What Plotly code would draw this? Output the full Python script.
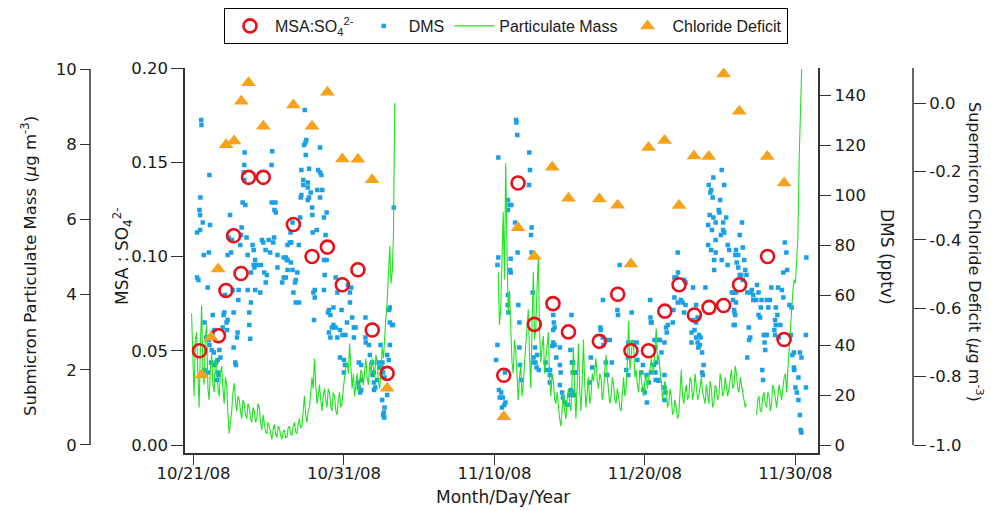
import pandas as pd
import plotly.graph_objects as go

# ---------------- data (days since 2008-10-21 00:00) ----------------
BASE = pd.Timestamp("2008-10-21")

msa_day = [0.40, 1.66, 2.16, 2.67, 3.16, 3.66, 4.64, 6.64, 7.88, 8.90, 9.89, 10.93, 11.88, 12.87,
           20.62, 21.57, 22.65, 23.89, 24.92, 26.97, 28.19, 29.07, 30.24, 31.32, 32.27, 33.29,
           34.26, 35.23, 36.29, 38.15, 39.25]
msa_ratio = [0.050, 0.058, 0.082, 0.111, 0.091, 0.142, 0.142, 0.117, 0.100, 0.105, 0.085, 0.093,
             0.061, 0.038,
             0.037, 0.139, 0.064, 0.075, 0.060, 0.055, 0.080, 0.050, 0.050, 0.071, 0.085, 0.069,
             0.073, 0.074, 0.085, 0.100, 0.056]

cl_day = [0.55, 1.17, 1.64, 2.17, 2.70, 3.18, 3.66, 4.64, 6.64, 7.88, 8.90, 9.89, 10.93, 11.87, 12.87,
          20.62, 21.57, 22.65, 23.84, 24.92, 26.97, 28.19, 29.07, 30.24, 31.30, 32.27, 33.26,
          34.24, 35.23, 36.27, 38.13, 39.25]
cl_deficit = [-0.795, -0.685, -0.485, -0.121, -0.110, 0.006, 0.060, -0.067, -0.005, -0.067, 0.032,
              -0.163, -0.164, -0.224, -0.834,
              -0.917, -0.364, -0.448, -0.187, -0.278, -0.280, -0.298, -0.470, -0.129, -0.109,
              -0.299, -0.154, -0.156, 0.086, -0.023, -0.156, -0.233]

# DMS observations: (day, pptv)
dms_obs = [
    (0.51, 130), (0.53, 128), (1.06, 108), (3.40, 117), (5.23, 117.5), (5.19, 112), (3.38, 112),
    (3.34, 109), (3.38, 106), (0.46, 99), (0.40, 94), (0.44, 92), (0.62, 89), (1.10, 88), (0.44, 86),
    (0.24, 85), (3.27, 97), (3.45, 96), (2.43, 92), (3.20, 87), (5.20, 97), (5.45, 97), (5.38, 94),
    (5.47, 93), (2.34, 83), (2.56, 82), (3.16, 84), (3.53, 83), (3.93, 80), (3.11, 80), (4.55, 82),
    (4.64, 81), (5.00, 82), (5.30, 81), (5.36, 83), (4.79, 78), (4.00, 78), (2.50, 77), (2.27, 76),
    (1.02, 77), (0.68, 76), (3.60, 76), (5.10, 77), (5.58, 76), (6.00, 75), (6.25, 74), (4.10, 74),
    (4.00, 72), (4.05, 71), (4.20, 72), (4.48, 72), (5.58, 71), (4.70, 69), (4.88, 68), (3.82, 69),
    (0.24, 67), (0.33, 66), (6.00, 67), (5.90, 65), (4.80, 65), (0.95, 63), (2.60, 62), (3.00, 62),
    (3.60, 62), (4.10, 62), (4.44, 61), (2.98, 58), (2.10, 60), (3.82, 57), (2.67, 53), (2.05, 53),
    (2.00, 52), (1.28, 52), (3.71, 53), (2.27, 50), (2.20, 49), (0.73, 49), (3.71, 48), (1.94, 47),
    (2.23, 46), (1.39, 46), (1.28, 45), (2.93, 45), (2.89, 43), (3.77, 42.5), (0.84, 43), (1.02, 42),
    (2.67, 39), (1.72, 38), (1.35, 37), (1.79, 35), (1.61, 34), (1.17, 33), (1.39, 32), (1.50, 33),
    (2.78, 33), (2.82, 32), (0.73, 30), (0.95, 29), (1.61, 29), (1.66, 28), (1.57, 26), (1.21, 38),
    (1.06, 40),
    (7.40, 134), (7.50, 122), (7.44, 121), (7.35, 120), (8.41, 119), (7.46, 116), (7.17, 110),
    (7.68, 110.5), (8.28, 110), (8.41, 109), (8.50, 108), (7.30, 106), (7.60, 105), (7.30, 104),
    (7.60, 103), (8.23, 102), (8.56, 102), (7.79, 101), (7.17, 100), (7.13, 99), (7.68, 99),
    (7.60, 98), (8.41, 99), (7.88, 95), (7.90, 92), (8.85, 93), (8.67, 91), (7.09, 91), (6.58, 89),
    (6.45, 85), (6.40, 81), (6.50, 81), (6.25, 80), (7.00, 80), (8.19, 86), (7.92, 85), (8.78, 84),
    (6.14, 75), (6.47, 73), (6.20, 74), (8.67, 74), (8.85, 74), (6.25, 70), (6.58, 70), (6.90, 69),
    (6.14, 67), (6.80, 66), (6.75, 65), (8.72, 68), (9.45, 67), (8.06, 62), (7.97, 61), (8.67, 62),
    (9.56, 61), (10.26, 64), (10.48, 63), (10.40, 61), (6.64, 61), (8.06, 59), (6.80, 57),
    (7.02, 57), (9.00, 54), (8.94, 53), (9.10, 52), (9.30, 55), (9.84, 54), (10.40, 57), (8.01, 50),
    (10.55, 51), (11.43, 51), (9.30, 48), (9.45, 47), (9.20, 47), (9.00, 45), (10.20, 49),
    (10.77, 47), (10.66, 47), (9.74, 46), (9.10, 43), (9.56, 43), (9.90, 44), (10.10, 44),
    (10.66, 43), (11.43, 43), (11.45, 41), (11.66, 40), (12.43, 40), (13.05, 40), (13.20, 48),
    (13.25, 48), (13.05, 49), (13.05, 55), (13.00, 54), (13.31, 95), (9.74, 35), (10.00, 34),
    (11.72, 36), (11.88, 33), (12.87, 36), (12.98, 34), (10.07, 32), (10.99, 33), (11.15, 32),
    (12.30, 33), (12.40, 31), (10.00, 29), (11.98, 29), (11.90, 28), (12.20, 26), (12.00, 25),
    (11.17, 26), (10.93, 25), (12.56, 33), (12.50, 31), (12.60, 29), (12.70, 27), (10.99, 23),
    (11.15, 22), (11.08, 21), (12.08, 23), (12.00, 22), (12.87, 20), (12.54, 18), (12.70, 15),
    (12.65, 13), (12.60, 12), (12.68, 11),
    (21.44, 130), (21.46, 129), (21.52, 124), (20.26, 115), (22.32, 117), (22.36, 110), (22.30, 104),
    (20.90, 98), (21.00, 96), (20.90, 94), (21.12, 96), (21.37, 89), (22.47, 87), (22.43, 84),
    (21.54, 77), (22.47, 77), (20.26, 75), (20.20, 72), (21.08, 74.5), (21.04, 70), (21.08, 69),
    (20.90, 60), (20.88, 56), (20.93, 53), (21.59, 56), (22.54, 61), (21.66, 49), (23.91, 52),
    (25.12, 52), (23.95, 49), (24.00, 47), (23.90, 46), (20.20, 40), (21.66, 39), (22.69, 39),
    (23.90, 41), (24.00, 40), (23.85, 39.6), (24.35, 39), (25.05, 38), (20.11, 34), (22.60, 35),
    (22.84, 36), (22.73, 33), (22.56, 33), (23.40, 33), (23.50, 30), (23.70, 30), (24.11, 35),
    (21.70, 32), (22.80, 31), (22.95, 30), (24.35, 32), (24.40, 29), (25.15, 33), (25.20, 29),
    (25.30, 29), (23.68, 28), (21.76, 26), (23.68, 25), (20.70, 29), (20.30, 22), (20.45, 21),
    (20.35, 19), (20.55, 19), (20.73, 17), (20.66, 16), (20.50, 15), (24.35, 24), (24.50, 21),
    (24.55, 19), (24.65, 17), (24.85, 16), (25.00, 20), (25.20, 21), (25.30, 20), (25.10, 22),
    (28.32, 72), (27.21, 58), (30.35, 58), (28.17, 54), (28.21, 52), (29.12, 53), (30.37, 51),
    (30.40, 49), (30.45, 49), (27.04, 47), (27.06, 46), (27.20, 43), (27.40, 42), (27.66, 42),
    (27.24, 40), (28.90, 41), (29.20, 41), (29.45, 41), (30.64, 42), (30.70, 39), (25.23, 33),
    (25.41, 29), (26.40, 35), (26.50, 31), (27.40, 33), (27.80, 33), (29.50, 34), (28.87, 35),
    (28.76, 30), (27.50, 28), (28.90, 28), (29.87, 32), (29.76, 29), (30.10, 28), (30.40, 29),
    (30.70, 29), (30.72, 26), (26.33, 25), (30.26, 25), (29.90, 22), (30.00, 21), (30.13, 17),
    (25.20, 21), (25.30, 20),
    (35.10, 110), (34.55, 107), (35.27, 104), (34.24, 104), (34.40, 102), (34.35, 101), (34.50, 99),
    (35.00, 98), (34.95, 93), (34.90, 94), (34.30, 92), (34.55, 91), (35.40, 91), (34.70, 89),
    (35.20, 89), (34.20, 88), (35.20, 86), (35.27, 85), (35.05, 84), (34.45, 86), (34.70, 82),
    (35.50, 80), (35.60, 78), (34.20, 80), (34.40, 78), (34.70, 77), (32.18, 77), (34.60, 74),
    (35.10, 74), (35.50, 72), (34.60, 70), (32.20, 69), (32.10, 67), (31.96, 67), (32.60, 66),
    (32.70, 65), (33.20, 63), (34.02, 63), (31.96, 59), (32.18, 57), (32.40, 58), (32.50, 57),
    (32.70, 56), (32.60, 53), (31.90, 54), (33.40, 56), (33.50, 51), (31.52, 48), (31.85, 49),
    (33.20, 50), (33.40, 49), (33.30, 46), (31.40, 47), (31.45, 45), (33.10, 45), (33.60, 44),
    (33.70, 43), (33.40, 43), (33.65, 40), (33.50, 41), (33.10, 41), (33.55, 39), (31.00, 42),
    (30.93, 42), (31.30, 41), (33.80, 37), (31.10, 37), (30.75, 33), (30.60, 32), (33.90, 32),
    (33.80, 29), (33.85, 28), (31.30, 28), (30.86, 26), (30.90, 25.7), (31.30, 23), (31.37, 21),
    (31.30, 18), (35.90, 48), (35.92, 54), (35.85, 58), (36.00, 52), (36.05, 78), (36.00, 76),
    (36.10, 73), (35.90, 61), (35.78, 61),
    (36.45, 89), (36.30, 84), (36.50, 79), (36.20, 76), (36.60, 74), (36.67, 70), (36.20, 71),
    (36.30, 68), (36.75, 68), (36.40, 68), (36.50, 66), (36.05, 61), (36.05, 57), (35.95, 53),
    (35.97, 48), (36.80, 61), (37.00, 61), (37.20, 60), (37.10, 62), (37.45, 64), (37.40, 58),
    (37.20, 58), (37.55, 61), (37.75, 58), (37.70, 55), (37.55, 52), (37.65, 51), (38.10, 58),
    (38.30, 58), (38.20, 55), (38.40, 63), (38.85, 63), (39.10, 62), (39.20, 59), (39.30, 81),
    (39.40, 77), (39.20, 69), (39.45, 70), (39.60, 56), (39.75, 55), (38.70, 55), (38.80, 52),
    (38.65, 50), (38.70, 48), (39.00, 48), (38.60, 46), (38.90, 43), (38.65, 44), (36.90, 47),
    (37.00, 43), (36.92, 42), (37.90, 44), (38.00, 44), (38.10, 44), (37.95, 41), (38.00, 38),
    (36.80, 35), (37.80, 30), (37.85, 26), (39.70, 44), (39.90, 37), (39.80, 36), (40.30, 37),
    (40.40, 35), (39.90, 31), (39.92, 30), (40.20, 27), (40.00, 23), (40.10, 21), (40.20, 18),
    (40.30, 12), (40.35, 6), (40.40, 5), (40.70, 23), (40.73, 75), (40.70, 44),
]

# Submicron particulate mass, 2-hourly samples
pm_step_hours = 2
pm1_start_day = -0.125
pm1_vals = [3.5, 2.2, 1.3, 2.8, 3.0, 1.9, 1.0, 2.6, 3.7, 2.0,
            1.6, 2.9, 3.2, 1.5, 1.2, 2.0, 2.4, 1.6, 1.4, 2.3,
            2.2, 1.5, 1.3, 1.9, 2.1, 1.5, 1.1, 1.8, 1.6, 0.8,
            0.3, 0.6, 0.9, 1.4, 1.65, 1.2, 0.9, 1.3, 1.2, 0.9,
            0.7, 1.2, 1.1, 0.8, 0.7, 1.1, 1.0, 0.7, 0.6, 1.0,
            0.9, 0.6, 0.7, 1.1, 1.0, 0.6, 0.4, 0.8, 0.6, 0.35,
            0.3, 0.6, 0.5, 0.25, 0.15, 0.4, 0.55, 0.3, 0.2, 0.5,
            0.45, 0.25, 0.15, 0.35, 0.4, 0.2, 0.2, 0.45, 0.5, 0.3,
            0.25, 0.5, 0.6, 0.35, 0.3, 0.55, 0.7, 0.45, 0.5, 0.9,
            1.3, 0.8, 0.6, 0.9, 1.0, 1.4, 1.8, 1.5, 2.3, 1.6,
            1.1, 1.3, 1.6, 1.2, 0.9, 1.3, 1.5, 1.2, 1.0, 1.5,
            1.4, 1.0, 0.9, 1.4, 1.3, 0.9, 0.8, 1.2, 1.4, 1.0,
            1.1, 1.5, 1.8, 2.1, 2.2, 1.9, 2.7, 2.0, 1.5, 1.9,
            1.3, 1.6, 1.9, 1.4, 1.5, 2.0, 1.9, 1.6, 2.1, 2.3,
            1.8, 1.6, 2.2, 1.9, 2.3, 2.0, 1.8, 2.4, 2.2, 1.7,
            1.5, 2.0, 2.6, 2.3, 3.0, 3.4, 3.8, 4.6, 5.3, 4.3,
            4.6, 5.6, 9.1]
pm2_start_day = 20.25
pm2_vals = [4.6, 3.2, 3.6, 5.0, 6.2, 4.4, 7.5, 5.2, 3.5, 4.1, 2.9, 2.2, 1.9, 2.8, 2.5, 1.6, 1.2, 1.8, 2.1, 1.3,
            1.6, 2.2, 2.6, 3.1, 3.6, 2.4, 1.5, 3.2, 4.6, 2.8, 3.1, 4.2, 5.0, 3.0, 2.2, 2.6, 2.9, 1.9, 2.3, 2.7,
            3.0, 1.8, 1.3, 1.9, 1.7, 1.2, 1.1, 1.4, 0.9, 0.7, 0.5, 1.0, 1.4, 0.9, 0.7, 1.2, 1.5, 1.1, 0.9, 1.8,
            2.6, 1.4, 0.7, 1.6, 2.7, 1.5, 0.9, 1.7, 2.8, 1.6, 1.0, 1.4, 1.8, 1.1, 1.3, 1.9, 1.7, 2.0, 2.3, 1.7,
            1.5, 1.9, 1.8, 1.2, 1.4, 2.0, 2.4, 1.8, 1.5, 1.1, 1.3, 1.8, 1.6, 1.2, 1.1, 1.5, 1.3, 1.0, 0.9, 1.4,
            1.8, 1.3, 1.5, 2.2, 3.3, 2.0, 2.3, 2.8, 2.7, 1.8, 2.0, 1.6, 1.4, 2.0, 1.8, 1.5, 1.3, 1.7, 1.9, 1.5,
            1.7, 2.0, 2.3, 1.9, 2.0, 2.6, 3.1, 2.2, 2.4, 2.0, 1.7, 1.2, 1.4, 1.7, 1.5, 1.0, 1.1, 1.5, 1.3, 0.8,
            0.9, 1.2, 1.0, 0.7, 0.8, 1.4, 2.0, 1.3, 1.1, 1.4, 1.6, 1.2, 1.3, 1.8, 1.7, 1.2, 1.4, 1.9, 1.6, 1.2,
            1.3, 1.6, 1.8, 1.4, 1.2, 1.1, 1.6, 1.3, 1.1, 1.7, 1.5, 1.0, 1.1, 1.6, 1.5, 1.2, 1.3, 1.9, 1.7, 1.3,
            1.4, 1.8, 1.6, 1.3, 1.5, 1.8, 2.0, 1.5, 1.6, 2.1, 1.9, 1.5, 1.4, 1.8, 1.6, 1.3, 1.2, 1.0, 1.1,
            None, None, None, None, None, None, None,
            0.8, 1.2, 1.3, 0.9, 0.9, 1.3, 1.4, 1.1, 1.0, 1.4, 1.3, 0.9, 1.1, 1.6, 1.5, 1.2, 1.0, 1.3, 1.6,
            1.4, 1.2, 1.5, 1.8, 1.9, 1.4, 2.0, 2.6, 3.1, 3.6, 4.1, 4.4, 4.3, 4.9, 5.5, 7.6, 9.0, 10.0]

x_tick_dates = ["2008-10-21", "2008-10-31", "2008-11-10", "2008-11-20", "2008-11-30"]
x_tick_text = ["10/21/08", "10/31/08", "11/10/08", "11/20/08", "11/30/08"]
pm_ticks = [0, 2, 4, 6, 8, 10]
msa_ticks = [0.0, 0.05, 0.10, 0.15, 0.20]
msa_tick_text = ["0.00", "0.05", "0.10", "0.15", "0.20"]
dms_ticks = [0, 20, 40, 60, 80, 100, 120, 140]
cl_ticks = [-1.0, -0.8, -0.6, -0.4, -0.2, 0.0]
cl_tick_text = ["-1.0", "-0.8", "-0.6", "-0.4", "-0.2", "0.0"]


def to_time(days):
    return [BASE + pd.Timedelta(days=d) for d in days]


pm_x = ([BASE + pd.Timedelta(days=pm1_start_day) + pd.Timedelta(hours=pm_step_hours * k)
         for k in range(len(pm1_vals))] + [None] +
        [BASE + pd.Timedelta(days=pm2_start_day) + pd.Timedelta(hours=pm_step_hours * k)
         for k in range(len(pm2_vals))])
pm_y = pm1_vals + [None] + pm2_vals

W, H = 991, 511
AX = "#333333"

fig = go.Figure()
fig.add_trace(go.Scatter(
    x=to_time(msa_day), y=msa_ratio, yaxis="y3", mode="markers", name="MSA:SO<sub>4</sub><sup>2-</sup>",
    marker=dict(symbol="circle-open", size=13, color="#E8101A", line=dict(width=2.6, color="#E8101A"))))
fig.add_trace(go.Scatter(
    x=to_time([d for d, _ in dms_obs]), y=[v for _, v in dms_obs], yaxis="y", mode="markers",
    name="DMS", marker=dict(symbol="square", size=4.5, color="#1AA0E6", line=dict(width=0))))
fig.add_trace(go.Scatter(
    x=pm_x, y=pm_y, yaxis="y2", mode="lines", name="Particulate Mass",
    line=dict(color="#1FE31F", width=1.1), connectgaps=False))
fig.add_trace(go.Scatter(
    x=to_time(cl_day), y=cl_deficit, yaxis="y4", mode="markers", name="Chloride Deficit",
    marker=dict(symbol="triangle-up", size=13, color="#F7A21B", line=dict(width=0))))

tickfont = dict(family="DejaVu Sans", size=16.5, color="#1a1a1a")
common = dict(showgrid=False, zeroline=False, ticks="outside", tickwidth=1.3, tickcolor=AX,
              tickfont=tickfont)

fig.update_layout(
    width=W, height=H, autosize=False,
    margin=dict(l=0, r=0, t=0, b=0, pad=0, autoexpand=False),
    paper_bgcolor="white", plot_bgcolor="rgba(0,0,0,0)",
    font=dict(family="DejaVu Sans", size=16, color="#1a1a1a"),
    legend=dict(orientation="h", x=506 / W, xanchor="center", y=1 - 8 / H, yanchor="top",
                bordercolor="black", borderwidth=1, bgcolor="white", itemwidth=40,
                font=dict(family="Liberation Sans", size=16, color="#1a1a1a")),
    xaxis=dict(domain=[185 / W, 817.5 / W], type="date",
               range=["2008-10-20 10:30", "2008-12-01 11:15"],
               tickvals=x_tick_dates, ticktext=x_tick_text, ticklen=10, ticklabelstandoff=-6,
               showline=True, linecolor=AX, linewidth=1.5, anchor="y", **common),
    yaxis=dict(domain=[58 / H, 443 / H], range=[-3.2, 150.8], side="right", anchor="x",
               tickvals=dms_ticks, ticklen=12, showline=True, linecolor=AX, linewidth=1.5,
               **common),
    yaxis2=dict(overlaying="y", anchor="free", position=90 / W, side="left",
                range=[-0.213, 10.027], tickvals=pm_ticks, ticklen=10, showline=False, **common),
    yaxis3=dict(overlaying="y", anchor="x", side="left", range=[-0.00424, 0.2],
                tickvals=msa_ticks, ticktext=msa_tick_text, ticklen=12, showline=True,
                linecolor=AX, linewidth=1.5, **common),
    yaxis4=dict(overlaying="y", anchor="free", position=913 / W, side="right",
                range=[-1.0234, 0.1033], tickvals=cl_ticks, ticktext=cl_tick_text, ticklen=12,
                showline=False, **common),
    shapes=[
        dict(type="line", xref="paper", yref="y2", x0=90 / W, x1=90 / W, y0=0, y1=10,
             line=dict(color=AX, width=1.5)),
        dict(type="line", xref="paper", yref="y4", x0=913 / W, x1=913 / W, y0=-1.0, y1=0.1033,
             line=dict(color=AX, width=1.5)),
    ],
    annotations=[
        dict(text="Submicron Particulate Mass (<i>µ</i>g m<sup>-3</sup>)", xref="paper",
             yref="paper", x=29 / W, y=1 - 266 / H, textangle=-90, showarrow=False,
             xanchor="center", yanchor="middle", font=dict(size=16.5)),
        dict(text="MSA : SO<sub>4</sub><sup>2-</sup>", xref="paper", yref="paper", x=122 / W,
             y=1 - 256 / H, textangle=-90, showarrow=False, xanchor="center", yanchor="middle",
             font=dict(size=17)),
        dict(text="DMS (pptv)", xref="paper", yref="paper", x=887 / W, y=1 - 257 / H,
             textangle=90, showarrow=False, xanchor="center", yanchor="middle",
             font=dict(size=17)),
        dict(text="Supermicron Chloride Deficit (<i>µ</i>g m<sup>-3</sup>)", xref="paper",
             yref="paper", x=976 / W, y=1 - 252 / H, textangle=90, showarrow=False,
             xanchor="center", yanchor="middle", font=dict(size=16)),
        dict(text="Month/Day/Year", xref="paper", yref="paper", x=503 / W, y=1 - 497 / H,
             showarrow=False, xanchor="center", yanchor="middle", font=dict(size=17)),
    ],
)

fig.write_html("out.html")
